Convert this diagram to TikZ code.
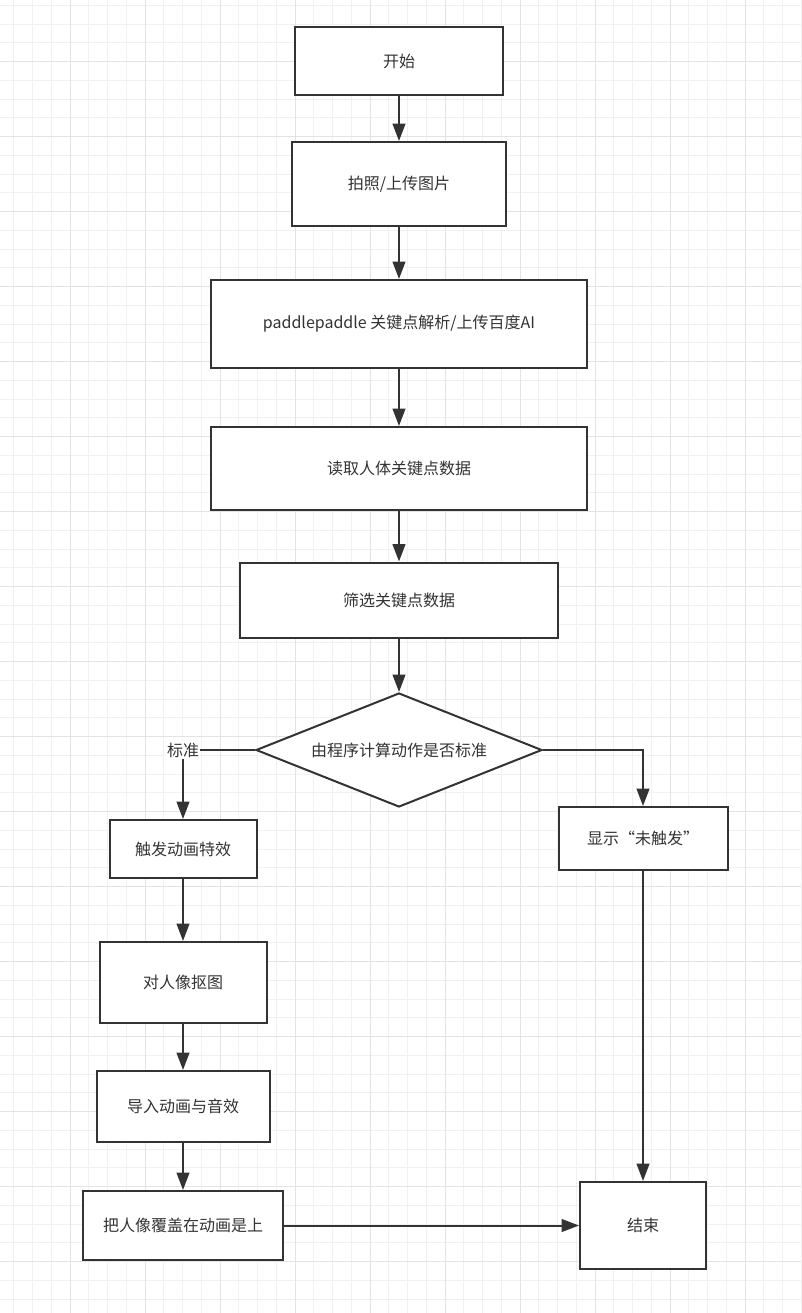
\documentclass[tikz,border=0pt]{standalone}
\usepackage{fontspec}
\newfontfamily\cjk{Noto Sans CJK SC}
\usetikzlibrary{shapes.geometric,arrows.meta}
\definecolor{linegray}{HTML}{333333}
\definecolor{minorgray}{HTML}{F1F1F1}
\definecolor{majorgray}{HTML}{E3E3E3}

\begin{document}
\begin{tikzpicture}[
    x=0.75pt, y=-0.75pt,
    box/.style={rectangle, draw=linegray, line width=1.5pt, fill=white, text=linegray, font=\cjk\fontsize{12}{14}\selectfont},
    decision/.style={diamond, aspect=2.5, inner sep=1pt, draw=linegray, line width=1.5pt, fill=white, text=linegray, font=\cjk\fontsize{12}{14}\selectfont},
    flow/.style={draw=linegray, line width=1.5pt, -{Triangle[length=13pt,width=9.5pt]}},
    tag/.style={fill=white, inner sep=1pt, text=linegray, font=\cjk\fontsize{12}{14}\selectfont},
    minorline/.style={draw=minorgray, line width=0.75pt},
    majorline/.style={draw=majorgray, line width=0.75pt}
]

% Background grid
\useasboundingbox[fill=white] (0,0) rectangle (801,1313);
\foreach \i in {0,...,42} \draw[minorline] ({13.75+18.75*\i},0) -- ({13.75+18.75*\i},1313);
\foreach \i in {0,...,69} \draw[minorline] (0,{5.45+18.75*\i}) -- (801,{5.45+18.75*\i});
\foreach \i in {0,...,9} \draw[majorline] ({70+75*\i},0) -- ({70+75*\i},1313);
\foreach \i in {0,...,16} \draw[majorline] (0,{61.7+75*\i}) -- (801,{61.7+75*\i});

% Define node positions
\node[box, minimum width=156pt, minimum height=51pt] (start) at (399,61) {开始};
\node[box, minimum width=160.5pt, minimum height=63pt] (photo) at (399,184) {拍照/上传图片};
\node[box, minimum width=282pt, minimum height=66pt] (parse) at (399,324) {paddlepaddle 关键点解析/上传百度AI};
\node[box, minimum width=282pt, minimum height=62.25pt] (read) at (399,468.5) {读取人体关键点数据};
\node[box, minimum width=238.5pt, minimum height=56.25pt] (filter) at (399,600) {筛选关键点数据};
\node[decision, minimum width=214.5pt, minimum height=85.5pt] (judge) at (399,750) {由程序计算动作是否标准};

\node[box, minimum width=110.25pt, minimum height=43.5pt] (trigger) at (183,849) {触发动画特效};
\node[box, minimum width=125.25pt, minimum height=60.75pt] (cutout) at (183,982.5) {对人像抠图};
\node[box, minimum width=129.75pt, minimum height=53.25pt] (import) at (183,1106.5) {导入动画与音效};
\node[box, minimum width=150pt, minimum height=51.75pt] (overlay) at (183,1225.5) {把人像覆盖在动画是上};

\node[box, minimum width=126.75pt, minimum height=47.25pt] (notrig) at (643,838.5) {显示“未触发”};
\node[box, minimum width=94.5pt, minimum height=65.25pt] (finish) at (643,1225.5) {结束};

% Main flow
\draw[flow] (start) -- (photo);
\draw[flow] (photo) -- (parse);
\draw[flow] (parse) -- (read);
\draw[flow] (read) -- (filter);
\draw[flow] (filter) -- (judge);

% Branches
\draw[flow] (judge.west) -| (trigger.north) node[tag, pos=0.5] (lblstd) {标准};
\draw[flow] (judge.east) -| (notrig.north);
\draw[flow] (trigger) -- (cutout);
\draw[flow] (cutout) -- (import);
\draw[flow] (import) -- (overlay);
\draw[flow] (overlay) -- (finish);
\draw[flow] (notrig) -- (finish);

\end{tikzpicture}
\end{document}
